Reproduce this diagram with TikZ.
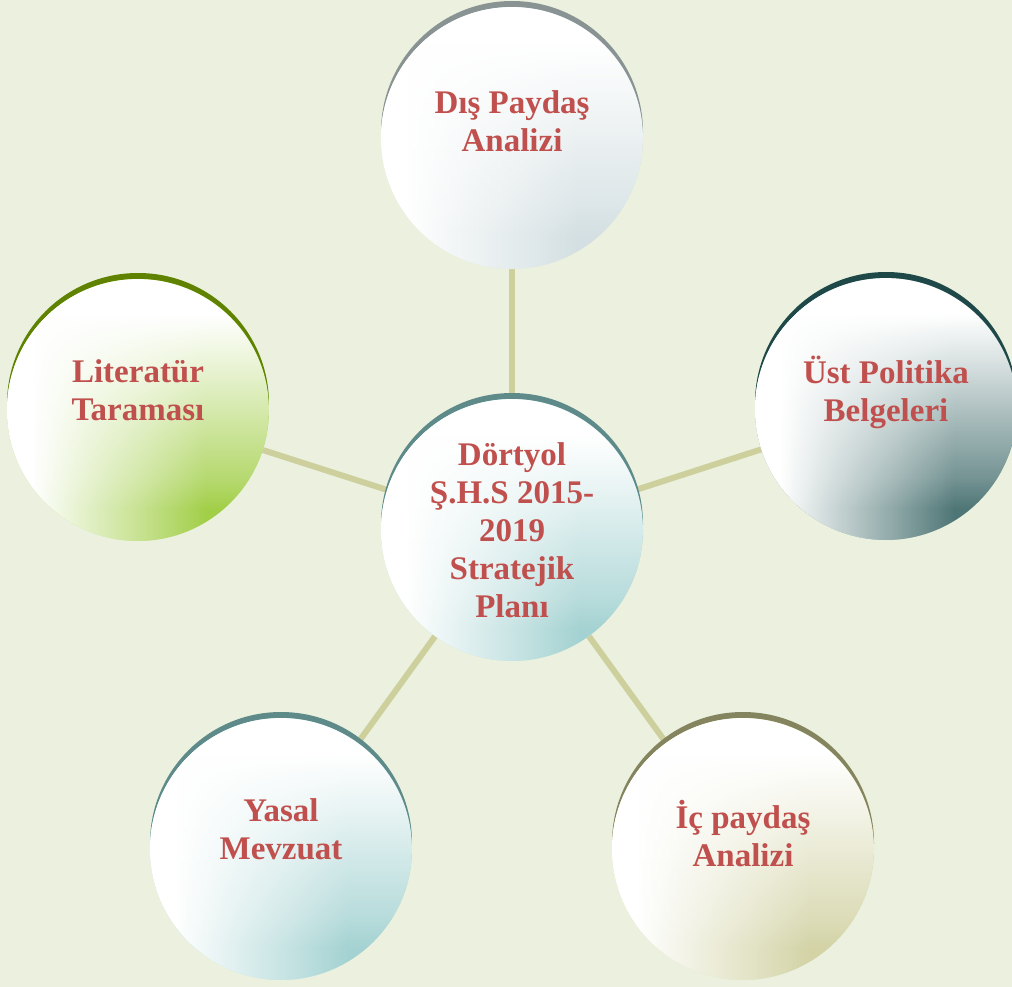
\documentclass[tikz,border=0pt]{standalone}
\usepackage{fontspec}
\setmainfont{Liberation Serif}
\usetikzlibrary{backgrounds,fadings}

\definecolor{bgcol}{HTML}{EBF1DE}
\definecolor{spokecol}{HTML}{CDCF9D}
\definecolor{lblred}{HTML}{C0504D}
\definecolor{discol}{HTML}{D3DFE2}
\definecolor{disrim}{HTML}{8A9393}
\definecolor{hubcol}{HTML}{A4D2D2}
\definecolor{hubrim}{HTML}{5E8A8A}
\definecolor{ustcol}{HTML}{4F7676}
\definecolor{ustrim}{HTML}{1F4848}
\definecolor{litcol}{HTML}{A2CF48}
\definecolor{litrim}{HTML}{5F8200}
\definecolor{iccol}{HTML}{D3D3A6}
\definecolor{icrim}{HTML}{84845E}

% white veil from the left and from the top
\pgfdeclarehorizontalshading{bubhsh}{100bp}{color(0bp)=(pgftransparent!0); color(30bp)=(pgftransparent!0); color(40bp)=(pgftransparent!30); color(51bp)=(pgftransparent!62); color(63bp)=(pgftransparent!100); color(100bp)=(pgftransparent!100)}
\pgfdeclarefading{bubhfade}{\pgfuseshading{bubhsh}}
\pgfdeclareverticalshading{bubvsh}{100bp}{color(0bp)=(pgftransparent!100); color(31bp)=(pgftransparent!100); color(37bp)=(pgftransparent!78); color(48bp)=(pgftransparent!50); color(58bp)=(pgftransparent!24); color(68bp)=(pgftransparent!0); color(100bp)=(pgftransparent!0)}
\pgfdeclarefading{bubvfade}{\pgfuseshading{bubvsh}}

\tikzset{
	bub/.style 2 args={circle, minimum size=262pt, inner sep=0pt,
		preaction={fill=#2, transform canvas={yshift=6pt}},
		fill=#1,
		postaction={fill=white, path fading=bubhfade},
		postaction={fill=white, path fading=bubvfade}},
	lbl/.style={text=lblred, align=center, font=\bfseries\fontsize{33}{38}\selectfont},
	spoke/.style={draw=spokecol, line width=6pt},
}

\begin{document}
\begin{tikzpicture}[x=1pt,y=-1pt]
	\useasboundingbox (0,0) rectangle (1012,987);
	\node[bub={hubcol}{hubrim}] (hub) at (512,530) {};
	\node[bub={discol}{disrim}] (dis) at (512,138) {};
	\node[bub={ustcol}{ustrim}] (ust) at (886,409) {};
	\node[bub={iccol}{icrim}] (ic) at (743,849) {};
	\node[bub={hubcol}{hubrim}] (yasal) at (281,849) {};
	\node[bub={litcol}{litrim}] (lit) at (138,410) {};

	\node[lbl] (hubT) at (hub.center) {Dörtyol\\Ş.H.S 2015-\\2019\\Stratejik\\Planı};
	\node[lbl] (disT) at ([yshift=17pt]dis.center) {Dış Paydaş\\Analizi};
	\node[lbl] (ustT) at ([yshift=17pt]ust.center) {Üst Politika\\Belgeleri};
	\node[lbl] (icT) at ([yshift=15pt]ic.center) {İç paydaş\\Analizi};
	\node[lbl] (yasalT) at ([yshift=20pt]yasal.center) {Yasal\\Mevzuat};
	\node[lbl] (litT) at ([yshift=20pt]lit.center) {Literatür\\Taraması};

	\begin{pgfonlayer}{background}
		\fill[bgcol] (0,0) rectangle (1012,987);
		\path [spoke](hub) edge (dis);
		\path [spoke](hub) edge (ust);
		\path [spoke](hub) edge (ic);
		\path [spoke](hub) edge (yasal);
		\path [spoke](hub) edge (lit);
	\end{pgfonlayer}
\end{tikzpicture}
\end{document}
